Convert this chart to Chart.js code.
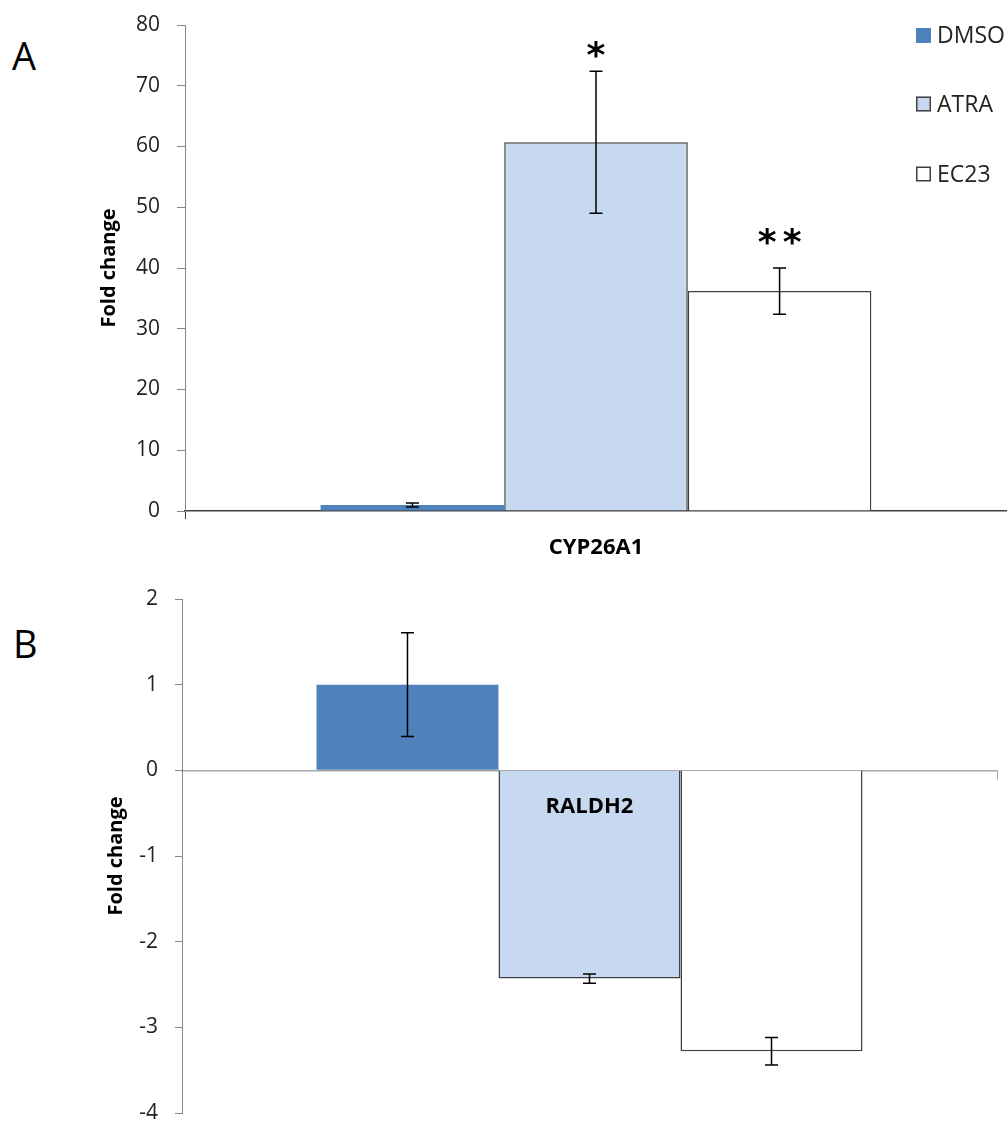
<!DOCTYPE html>
<html lang="en">
<head>
<meta charset="UTF-8">
<style>
  * { margin: 0; padding: 0; box-sizing: border-box; }
  body {
    width: 1007px;
    height: 1126px;
    background: #fff;
    position: relative;
    overflow: hidden;
    font-family: "Open Sans", sans-serif;
  }
  .panel-letter {
    position: absolute;
    font-size: 38px;
    line-height: 1;
    color: #000;
  }
  #chartA { position: absolute; left: 0; top: 0; }
  #chartB { position: absolute; left: 0; top: 565px; }
</style>
</head>
<body>
<div class="panel-letter" style="left:12px; top:36px;">A</div>
<div class="panel-letter" style="left:13px; top:624px;">B</div>
<canvas id="chartA" width="1007" height="565"></canvas>
<canvas id="chartB" width="1007" height="561"></canvas>

<script src="https://cdn.jsdelivr.net/npm/chart.js"></script>
<script>
// treatments (series)
const groups = ['DMSO', 'ATRA', 'EC23'];
const fills = ['#4f81bd', '#c6d9f1', '#ffffff'];
const edges = ['#4f81bd', '#404040', '#404040'];

// panel A - CYP26A1
const genesA = ['CYP26A1'];
const foldA = [1.0, 60.7, 36.2];
const errA = [0.33, 11.7, 3.8];
const starsA = ['', '*', '**'];
const starAtA = [null, 76.2, 45.4];

// panel B - RALDH2
const genesB = ['RALDH2'];
const foldB = [1.0, -2.43, -3.28];
const errB = [0.605, 0.054, 0.16];

Chart.defaults.font.family = '"Open Sans", sans-serif';

// error bars + significance stars
const errorBars = {
  id: 'errorBars',
  afterDatasetsDraw(chart, args, opts) {
    const ctx = chart.ctx;
    const y = chart.scales.y;
    ctx.save();
    ctx.strokeStyle = '#000';
    ctx.lineWidth = 1.5;
    chart.data.datasets.forEach((ds, i) => {
      const bar = chart.getDatasetMeta(i).data[0];
      const v = ds.data[0], e = opts.errors[i];
      const top = y.getPixelForValue(v + e);
      const bot = y.getPixelForValue(v - e);
      ctx.beginPath();
      ctx.moveTo(bar.x, top); ctx.lineTo(bar.x, bot);
      ctx.moveTo(bar.x - 6.5, top); ctx.lineTo(bar.x + 6.5, top);
      ctx.moveTo(bar.x - 6.5, bot); ctx.lineTo(bar.x + 6.5, bot);
      ctx.stroke();
      const s = opts.stars ? opts.stars[i] : '';
      if (s) {
        ctx.fillStyle = '#000';
        ctx.font = 'bold 36px "DejaVu Sans"';
        ctx.textAlign = 'center';
        ctx.textBaseline = 'alphabetic';
        const sy = y.getPixelForValue(opts.starAt[i]) + 19;
        const gap = 25;
        for (let k = 0; k < s.length; k++) {
          ctx.fillText(s[k], bar.x + (k - (s.length - 1) / 2) * gap, sy);
        }
      }
    });
    ctx.restore();
  }
};

// legend in the top-right corner of panel A
const cornerLegend = {
  id: 'cornerLegend',
  afterDraw(chart, args, opts) {
    if (!opts.show) return;
    const ctx = chart.ctx;
    const rows = [35.5, 104, 174];
    ctx.save();
    ctx.font = '23px "Open Sans"';
    ctx.textBaseline = 'middle';
    ctx.textAlign = 'left';
    chart.data.datasets.forEach((ds, i) => {
      const cy = rows[i];
      ctx.fillStyle = ds.backgroundColor;
      ctx.fillRect(916, cy - 7.5, 15, 15);
      if (i > 0) {
        ctx.strokeStyle = '#404040';
        ctx.lineWidth = 1.5;
        ctx.strokeRect(916.75, cy - 6.75, 13.5, 13.5);
      }
      ctx.fillStyle = '#222';
      ctx.fillText(ds.label, 937, cy + 1);
    });
    ctx.restore();
  }
};

function makeDatasets(values) {
  return groups.map((g, i) => ({
    label: g,
    data: [values[i]],
    backgroundColor: fills[i],
    borderColor: edges[i],
    borderWidth: i === 0 ? 0 : 1.5,
    categoryPercentage: 0.67,
    barPercentage: 1.0
  }));
}

// fixed y-axis box: width given, no extra label padding above/below
function fixY(width) {
  return function (s) {
    s.width = width;
    s.paddingTop = 0;
    s.paddingBottom = 0;
  };
}

new Chart(document.getElementById('chartA'), {
  type: 'bar',
  data: { labels: genesA, datasets: makeDatasets(foldA) },
  plugins: [errorBars, cornerLegend],
  options: {
    responsive: false,
    animation: false,
    layout: { padding: { left: 0, top: 25, right: 0, bottom: 0 } },
    plugins: {
      legend: { display: false },
      tooltip: { enabled: false },
      errorBars: { errors: errA, stars: starsA, starAt: starAtA },
      cornerLegend: { show: true }
    },
    scales: {
      x: {
        afterFit(s) { s.height = 54; },
        grid: { drawOnChartArea: false, tickLength: 8, color: '#404040' },
        border: { color: '#404040', width: 1.5 },
        ticks: { color: '#000', padding: 16, font: { size: 22, weight: 'bold' } }
      },
      y: {
        min: 0,
        max: 80,
        afterFit: fixY(185),
        ticks: { stepSize: 10, color: '#222', padding: 17, font: { size: 21 } },
        grid: { drawOnChartArea: false, tickLength: 8, color: '#868686' },
        border: { color: '#868686' },
        title: {
          display: true,
          text: 'Fold change',
          color: '#000',
          font: { size: 20, weight: 'bold' },
          padding: { top: 97, bottom: 0 }
        }
      }
    }
  }
});

new Chart(document.getElementById('chartB'), {
  type: 'bar',
  data: { labels: genesB, datasets: makeDatasets(foldB) },
  plugins: [errorBars],
  options: {
    responsive: false,
    animation: false,
    layout: { padding: { left: 0, top: 34, right: 10, bottom: 13 } },
    plugins: {
      legend: { display: false },
      tooltip: { enabled: false },
      errorBars: { errors: errB }
    },
    scales: {
      x: {
        position: { y: 0 },
        afterFit(s) { s.height = 0; },
        grid: { drawOnChartArea: false, tickLength: 8, color: '#a6a6a6' },
        border: { color: '#a6a6a6', width: 1.5 },
        ticks: { z: 1, color: '#000', padding: 15, font: { size: 22, weight: 'bold' } }
      },
      y: {
        min: -4,
        max: 2,
        afterFit: fixY(182),
        ticks: { stepSize: 1, color: '#222', padding: 17, font: { size: 21 } },
        grid: { drawOnChartArea: false, tickLength: 7, color: '#868686' },
        border: { color: '#868686' },
        title: {
          display: true,
          text: 'Fold change',
          color: '#000',
          font: { size: 20, weight: 'bold' },
          padding: { top: 104, bottom: 0 }
        }
      }
    }
  }
});
</script>
</body>
</html>
